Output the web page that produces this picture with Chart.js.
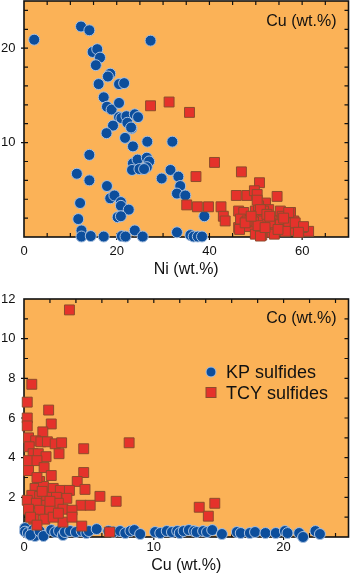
<!DOCTYPE html>
<html>
<head>
<meta charset="utf-8">
<script src="https://cdn.jsdelivr.net/npm/chart.js@4.4.0/dist/chart.umd.min.js"></script>
<style>
  html, body { margin: 0; padding: 0; background: #fff; }
  #wrap { position: relative; width: 350px; height: 574px; }
  canvas { position: absolute; left: 0; }
</style>
</head>
<body>
<div id="wrap">
  <canvas id="top" width="350" height="285" style="top:0"></canvas>
  <canvas id="bottom" width="350" height="289" style="top:285px"></canvas>
</div>
<script>
// ---- data: top panel, Ni vs Cu (wt.%) ----
var kpNiCu = [
  [2.2,20.9],[12.3,22.3],[14.1,21.9],[27.3,20.8],[14.8,19.6],[15.8,19.9],[16.4,19.0],[15.5,18.2],
  [18.6,17.3],[18.1,17.0],[16.1,16.2],[20.5,16.2],[21.6,16.3],[17.2,14.8],[17.9,13.8],[18.9,13.5],
  [20.5,14.2],[20.5,12.7],[21.0,12.6],[22.1,12.8],[23.9,13.0],[24.6,12.7],[22.3,12.1],[23.2,11.5],
  [19.2,11.8],[17.8,11.0],[21.8,10.5],[26.6,10.1],[32.0,10.1],[23.5,9.6],[23.1,11.6],
  [11.4,6.7],[14.1,8.7],[14.1,6.0],[12.1,3.6],[11.7,1.9],[12.4,0.7],[12.4,0.05],[14.4,0.1],
  [17.2,0.05],[17.9,5.4],[18.6,4.1],[19.5,4.4],[20.9,3.7],[20.9,3.3],[22.6,2.9],[20.2,2.1],
  [20.9,2.2],[23.9,0.7],[21.1,0.1],[21.9,0.05],[25.6,0.05],
  [23.5,7.8],[24.5,8.2],[23.3,7.1],[24.9,7.2],[26.5,8.4],[27.0,8.0],[26.5,7.4],[25.9,7.2],
  [29.7,6.2],[31.6,7.1],[33.3,6.4],[33.7,5.4],[33.0,4.6],[34.8,4.4],[38.9,2.2],[33.0,0.5],
  [35.9,0.2],[36.6,0.05],[37.5,0.05],[38.4,0.05]
];
var tcyNiCu = [
  [27.3,13.9],[31.3,14.3],[35.7,13.2],[41.1,7.9],[37.1,6.4],[46.9,6.9],[35.1,3.4],[37.4,3.2],
  [39.8,3.2],[42.5,3.2],[45.8,4.4],[48.1,4.4],[50.8,5.75],[49.7,4.9],[50.3,4.5],[54.6,4.3],
  [43.0,2.2],[43.4,1.7],[46.3,2.75],[47.4,2.6],[48.6,1.1],[46.3,1.0],[46.7,1.9],[49.9,2.75],
  [52.1,3.6],[57.5,2.6],[61.4,0.6],[60.0,1.0],[58.2,1.7],[55.3,2.75],[55.7,2.2],[53.5,1.7],
  [51.3,2.0],[52.1,0.6],[53.5,0.5],[55.7,1.0],[57.1,1.2],[58.5,0.7],[49.9,0.3],[51.3,0.2],
  [54.2,1.2],[49.5,1.6],[48.1,1.7],[50.6,3.3],[52.8,2.9],[50.3,3.9],[46.5,0.8],[51.0,0.1],
  [53.1,1.5],[57.1,2.6],[55.3,1.3],[57.1,1.5],[58.5,1.5],[60.3,1.1],[59.2,0.5],[51.7,2.75],
  [47.7,1.5],[51.0,2.9],[52.4,2.4],[56.0,2.0],[56.4,0.6],[54.0,0.3],[50.5,1.2],[52.0,1.0],
  [54.8,0.8],[49.0,2.2],[53.0,2.2]
];

// ---- data: bottom panel, Cu vs Co (wt.%) ----
var kpCuCo = [
  [0.08,0.45],[0.08,0.27],[0.3,0.2],[0.7,0.35],[0.85,0.05],[0.98,0.39],[0.5,0.1],[1.2,0.3],
  [1.5,0.05],[2.1,0.35],[2.4,0.25],[2.7,0.3],[3.0,0.1],[3.15,0.25],[3.55,0.3],[4.0,0.25],
  [4.45,0.3],[4.8,0.2],[5.0,0.3],[5.6,0.4],[6.5,0.3],[6.9,0.25],[7.4,0.3],[7.8,0.2],[8.2,0.3],
  [8.5,0.35],[8.95,0.15],[10.1,0.25],[10.5,0.2],[11.0,0.3],[11.4,0.25],[11.8,0.3],[12.0,0.2],
  [12.3,0.3],[12.7,0.35],[13.1,0.3],[13.3,0.25],[13.8,0.3],[14.1,0.25],[14.5,0.35],[15.25,0.15],
  [16.4,0.25],[16.7,0.2],[17.4,0.2],[17.8,0.25],[18.6,0.2],[19.4,0.2],[20.1,0.3],[20.3,0.2],
  [21.2,0.2],[21.5,0.0],[22.45,0.3],[22.8,0.15]
];
var tcyCuCo = [
  [3.5,11.45],[0.6,7.7],[0.25,6.8],[0.25,6.0],[1.9,6.4],[2.1,5.7],[1.45,5.3],[0.25,5.6],
  [0.35,5.0],[0.9,4.85],[1.3,4.8],[1.8,4.8],[2.4,4.7],[2.9,4.75],[0.4,4.55],[0.7,4.2],
  [1.1,4.2],[1.7,4.05],[2.7,4.2],[4.6,4.45],[8.1,4.75],[0.35,3.85],[1.0,3.85],[1.55,3.5],
  [0.35,3.35],[2.1,3.1],[4.6,3.25],[1.2,2.8],[4.1,2.8],[0.85,2.45],[1.5,2.55],[2.25,2.45],
  [2.8,2.35],[3.5,2.35],[4.7,2.4],[0.6,2.1],[1.2,2.05],[1.75,2.0],[2.5,2.0],[3.3,1.95],
  [5.85,2.05],[7.1,1.8],[0.25,1.85],[0.95,1.7],[1.75,1.6],[2.65,1.7],[4.4,1.6],[5.1,1.6],
  [0.35,1.4],[1.2,1.35],[2.0,1.35],[3.0,1.4],[3.7,1.35],[0.75,0.9],[1.6,0.9],[3.0,0.75],
  [3.7,1.0],[4.45,0.55],[6.6,0.25],[2.25,1.0],[2.65,1.2],[13.5,1.5],[14.2,1.05],[14.7,1.7],
  [1.0,3.0],[1.4,2.3],[2.0,1.8],[0.5,1.0],[1.0,0.6]
];

var seriesNames = ['KP sulfides', 'TCY sulfides'];

// tick labels and minor tick steps
var topXLabels = [0, 20, 40, 60];
var topYLabels = [10, 20];
var botXLabels = [0, 10, 20];
var botYLabels = [2, 4, 6, 8, 10, 12];

var FONT = "'Liberation Sans', Arial, Helvetica, sans-serif";
var ORANGE = '#fbb257';
Chart.defaults.font.family = FONT;
Chart.defaults.color = '#111';

function pts(arr) {
  return arr.map(function(p) { return {x: p[0], y: p[1]}; });
}

function range(a, b, step) {
  var out = [];
  for (var v = a; v <= b + 1e-9; v += step) out.push(+v.toFixed(4));
  return out;
}

// orange plot background, frame and inward ticks
var framePlugin = {
  id: 'frame',
  beforeDatasetsDraw: function(chart, args, o) {
    var a = chart.chartArea, ctx = chart.ctx;
    var xs = chart.scales.x, ys = chart.scales.y;
    ctx.save();
    ctx.fillStyle = ORANGE;
    ctx.fillRect(a.left, a.top, a.right - a.left, a.bottom - a.top);
    ctx.strokeStyle = '#111';
    ctx.lineWidth = 1.2;
    ctx.beginPath();
    o.xMinor.forEach(function(v) {
      var p = xs.getPixelForValue(v);
      if (p <= a.left + 1 || p >= a.right - 1) return;
      var major = o.xMajor.indexOf(v) >= 0;
      ctx.moveTo(p, a.bottom + (major ? 3 : 0)); ctx.lineTo(p, a.bottom - 4);
      ctx.moveTo(p, a.top); ctx.lineTo(p, a.top + 4);
    });
    o.yMinor.forEach(function(v) {
      var p = ys.getPixelForValue(v);
      if (p <= a.top + 1 || p >= a.bottom - 1) return;
      var major = o.yMajor.indexOf(v) >= 0;
      ctx.moveTo(a.left - (major ? 3 : 0), p); ctx.lineTo(a.left + 4, p);
      ctx.moveTo(a.right, p); ctx.lineTo(a.right - 4, p);
    });
    ctx.stroke();
    ctx.lineWidth = 1.6;
    ctx.strokeRect(a.left, a.top, a.right - a.left, a.bottom - a.top);
    ctx.restore();
  },
  afterDraw: function(chart, args, o) {
    var a = chart.chartArea, ctx = chart.ctx;
    ctx.save();
    ctx.fillStyle = '#111';
    ctx.font = '16px ' + FONT;
    ctx.textAlign = 'right';
    ctx.textBaseline = 'middle';
    ctx.fillText(o.label, a.right - 12, a.top + o.labelDy);
    if (o.legend) {
      var ds = chart.data.datasets;
      var order = [1, 0];
      ctx.font = '18px ' + FONT;
      ctx.textAlign = 'left';
      ctx.textBaseline = 'alphabetic';
      order.forEach(function(idx, i) {
        var d = ds[idx];
        var cy = a.top + 73 + i * 20.5;
        ctx.fillStyle = d.backgroundColor;
        ctx.strokeStyle = d.borderColor;
        ctx.lineWidth = 1;
        if (d.pointStyle === 'rect') {
          ctx.fillRect(206, cy - 5, 10, 10);
          ctx.strokeRect(206, cy - 5, 10, 10);
        } else {
          ctx.beginPath(); ctx.arc(211, cy, 5, 0, Math.PI * 2); ctx.fill(); ctx.stroke();
        }
        ctx.fillStyle = '#111';
        ctx.fillText(d.label, 226, cy + 6.3);
      });
    }
    ctx.restore();
  }
};

function makeDatasets(kp, tcy) {
  return [
    {
      label: seriesNames[1], data: pts(tcy), order: 0, clip: false,
      pointStyle: 'rect', pointRadius: 7, backgroundColor: '#e5322b',
      borderColor: '#8e4b2c', borderWidth: 1
    },
    {
      label: seriesNames[0], data: pts(kp), order: 1, clip: false,
      pointStyle: 'circle', pointRadius: 5.5, backgroundColor: '#0c4e9c',
      borderColor: '#a8c0df', borderWidth: 1
    }
  ];
}

function makeChart(id, kp, tcy, c) {
  var ctx = document.getElementById(id).getContext('2d');
  return new Chart(ctx, {
    type: 'scatter',
    data: { datasets: makeDatasets(kp, tcy) },
    plugins: [framePlugin],
    options: {
      responsive: false,
      animation: false,
      events: [],
      layout: { autoPadding: false, padding: { top: c.padTop, right: 1.5, left: 0, bottom: 0 } },
      plugins: {
        legend: { display: false },
        tooltip: { enabled: false },
        frame: {
          label: c.label, labelDy: c.labelDy, legend: c.legend,
          xMinor: c.xMinor, xMajor: c.xLabels, yMinor: c.yMinor, yMajor: c.yLabels
        }
      },
      scales: {
        x: {
          type: 'linear', min: c.xMin, max: c.xMax,
          grid: { display: false, drawTicks: false },
          border: { display: false },
          ticks: { font: { size: 13 }, color: '#111', padding: c.xPad, maxRotation: 0 },
          title: {
            display: true, text: c.xTitle, color: '#111',
            font: { size: 16, lineHeight: 1 }, padding: { top: 0, bottom: c.titlePad }
          },
          afterBuildTicks: function(s) { s.ticks = c.xLabels.map(function(v) { return {value: v}; }); },
          afterFit: function(s) { s.height = c.xHeight; s.paddingLeft = 0; s.paddingRight = 0; }
        },
        y: {
          type: 'linear', min: c.yMin, max: c.yMax,
          grid: { display: false, drawTicks: false },
          border: { display: false },
          ticks: { font: { size: 13 }, color: '#111', padding: 8.5 },
          afterBuildTicks: function(s) { s.ticks = c.yLabels.map(function(v) { return {value: v}; }); },
          afterFit: function(s) { s.width = 24; s.paddingTop = 0; s.paddingBottom = 0; }
        }
      }
    }
  });
}

makeChart('top', kpNiCu, tcyNiCu, {
  padTop: 1, label: 'Cu (wt.%)', labelDy: 21, legend: false,
  xMin: 0, xMax: 70, yMin: 0, yMax: 25,
  xLabels: topXLabels, yLabels: topYLabels,
  xMinor: range(0, 70, 5), yMinor: range(0, 25, 2),
  xTitle: 'Ni (wt.%)', xPad: 7, titlePad: 7, xHeight: 48
});

makeChart('bottom', kpCuCo, tcyCuCo, {
  padTop: 14, label: 'Co (wt.%)', labelDy: 19.5, legend: true,
  xMin: 0, xMax: 25, yMin: 0, yMax: 12,
  xLabels: botXLabels, yLabels: botYLabels,
  xMinor: range(0, 25, 2), yMinor: range(0, 12, 1),
  xTitle: 'Cu (wt.%)', xPad: 3, titlePad: 0, xHeight: 37
});
</script>
</body>
</html>
